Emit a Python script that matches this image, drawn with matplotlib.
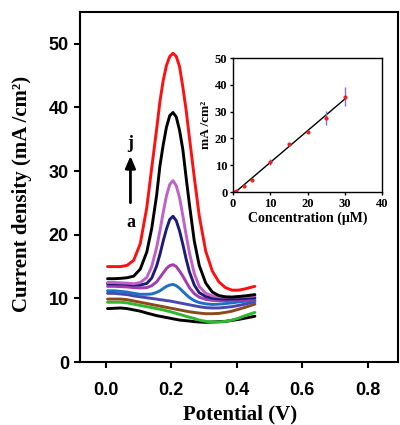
import matplotlib
matplotlib.use("Agg")
import matplotlib.pyplot as plt
import numpy as np

# potential (V) where the curves were read
potential = [0.005, 0.025, 0.045, 0.065, 0.085, 0.105, 0.125, 0.14, 0.155, 0.165,
             0.175, 0.185, 0.195, 0.205, 0.215, 0.225, 0.235, 0.245, 0.255, 0.27,
             0.285, 0.305, 0.325, 0.345, 0.365, 0.385, 0.405, 0.425, 0.455]

curve_a = [8.4, 8.45, 8.5, 8.4, 8.2, 8.0, 7.7, 7.5, 7.3, 7.2, 7.1, 7.0, 6.9, 6.8,
           6.7, 6.6, 6.55, 6.5, 6.45, 6.35, 6.3, 6.25, 6.3, 6.35, 6.4, 6.55, 6.7, 6.9, 7.2]
curve_b = [9.4, 9.4, 9.4, 9.3, 9.1, 8.9, 8.7, 8.55, 8.4, 8.3, 8.2, 8.05, 7.95, 7.8,
           7.65, 7.5, 7.35, 7.2, 7.05, 6.85, 6.6, 6.4, 6.3, 6.3, 6.4, 6.6, 6.9, 7.3, 7.8]
curve_c = [9.9, 9.9, 9.9, 9.8, 9.6, 9.4, 9.2, 9.05, 8.9, 8.8, 8.7, 8.6, 8.5, 8.4,
           8.3, 8.2, 8.1, 8.0, 7.9, 7.8, 7.7, 7.6, 7.6, 7.65, 7.8, 8.0, 8.3, 8.6, 9.1]
curve_d = [10.8, 10.8, 10.7, 10.6, 10.4, 10.25, 10.1, 10.0, 9.9, 9.8, 9.75, 9.65, 9.6, 9.5,
           9.4, 9.3, 9.2, 9.1, 9.0, 8.85, 8.7, 8.55, 8.5, 8.5, 8.6, 8.7, 8.9, 9.1, 9.5]
curve_e = [11.2, 11.2, 11.1, 11.0, 10.8, 10.65, 10.65, 10.7, 10.95, 11.2, 11.55, 11.9, 12.1, 12.2,
           12.0, 11.6, 11.1, 10.6, 10.15, 9.65, 9.35, 9.15, 9.05, 9.1, 9.2, 9.3, 9.45, 9.55, 9.7]
curve_f = [11.9, 11.9, 11.85, 11.8, 11.7, 11.65, 11.7, 12.0, 12.6, 13.3, 14.0, 14.7, 15.15, 15.3,
           15.0, 14.3, 13.5, 12.6, 11.7, 10.75, 10.2, 9.85, 9.7, 9.65, 9.65, 9.7, 9.75, 9.8, 9.9]
curve_g = [12.3, 12.3, 12.25, 12.2, 12.1, 12.1, 12.35, 13.2, 15.1, 16.9, 19.0, 20.9, 22.4, 22.9,
           22.2, 20.6, 18.5, 16.2, 14.2, 12.1, 10.9, 10.3, 10.05, 9.95, 9.9, 9.9, 9.95, 10.0, 10.1]
curve_h = [12.5, 12.5, 12.45, 12.4, 12.3, 12.5, 13.3, 15.0, 18.0, 20.6, 23.5, 26.1, 27.9, 28.5,
           27.7, 25.8, 23.0, 20.0, 17.2, 13.9, 11.9, 10.8, 10.4, 10.25, 10.2, 10.2, 10.25, 10.3, 10.4]
curve_i = [13.1, 13.1, 13.15, 13.25, 13.5, 14.6, 17.3, 21.0, 26.2, 30.8, 34.1, 36.9, 38.7, 39.2,
           38.5, 36.4, 33.4, 29.0, 24.8, 19.0, 15.2, 12.4, 11.0, 10.45, 10.25, 10.2, 10.3, 10.4, 10.6]
curve_j = [15.0, 15.0, 15.0, 15.2, 16.0, 18.6, 24.3, 30.5, 36.6, 40.9, 44.2, 46.6, 48.0, 48.5,
           48.0, 46.4, 43.2, 39.6, 35.3, 29.0, 23.0, 17.4, 14.3, 12.6, 11.7, 11.3, 11.3, 11.5, 11.9]

curves = [curve_a, curve_b, curve_c, curve_d, curve_e, curve_f, curve_g, curve_h, curve_i, curve_j]
colors = ['#000000', '#2db82d', '#8b4a1c', '#4848b0', '#1f6fc4',
          '#a23cb0', '#1c1c78', '#c060c8', '#000000', '#ff1010']

# inset calibration
conc = [0.3, 0.8, 3, 5, 10, 15, 20, 25, 30]
resp = [0.1, 0.4, 2.4, 4.5, 11.2, 17.8, 22.4, 27.7, 35.6]
resp_err = [0.2, 0.2, 0.3, 0.3, 1.25, 0.5, 0.3, 2.6, 3.5]

serif = ['Liberation Serif', 'DejaVu Serif']
sans = ['Liberation Sans', 'DejaVu Sans']

fig = plt.figure(figsize=(4, 4.25), dpi=100)
ax = fig.add_axes([0.2, 0.148, 0.795, 0.824])

for ys, c in zip(curves, colors):
    ax.plot(potential, ys, color=c, lw=2.1, solid_capstyle='round', solid_joinstyle='round')

ax.set_xlim(-0.079, 0.892)
ax.set_ylim(0, 55)
ax.set_xticks([0.0, 0.2, 0.4, 0.6, 0.8])
ax.set_xticklabels(['0.0', '0.2', '0.4', '0.6', '0.8'])
ax.set_yticks([0, 10, 20, 30, 40, 50])
for s in ax.spines.values():
    s.set_linewidth(1.5)
ax.tick_params(direction='out', length=4, width=1.5, top=False, right=False)
ax.tick_params(axis='x', pad=10)
ax.tick_params(axis='y', pad=4)
for lab in ax.get_xticklabels() + ax.get_yticklabels():
    lab.set_family(sans)
    lab.set_fontweight('bold')
    lab.set_fontsize(13)

ax.set_xlabel('Potential (V)', family=serif, fontweight='bold', fontsize=15)
ax.xaxis.set_label_coords(0.503, -0.12)
ax.set_ylabel('Current density (mA /cm\u00b2)', family=serif, fontweight='bold', fontsize=15)
ax.yaxis.set_label_coords(-0.152, 0.48)

ax.annotate('', xy=(0.075, 32.8), xytext=(0.075, 24.6),
            arrowprops=dict(arrowstyle='-|>,head_width=0.3,head_length=0.7', color='black', lw=2))
ax.text(0.075, 34.3, 'j', family=serif, fontweight='bold', fontsize=13, ha='center', va='center')
ax.text(0.075, 22.0, 'a', family=serif, fontweight='bold', fontsize=13, ha='center', va='center')

# inset
ins = fig.add_axes([0.5825, 0.548, 0.3725, 0.3153])
fit = np.polyfit(conc, resp, 1)
fx = np.array([0, 30])
ins.plot(fx, np.polyval(fit, fx), color='black', lw=1.0)
ins.errorbar(conc, resp, yerr=resp_err, fmt='o', ms=2.0, color='#ee2020',
             ecolor='#8a6ad8', elinewidth=1.0, capsize=0)
ins.set_xlim(0, 40)
ins.set_ylim(0, 50)
ins.set_xticks([0, 10, 20, 30, 40])
ins.set_yticks([0, 10, 20, 30, 40, 50])
for s in ins.spines.values():
    s.set_linewidth(1.0)
ins.tick_params(direction='out', length=2, width=1, pad=2)
for lab in ins.get_xticklabels() + ins.get_yticklabels():
    lab.set_family(serif)
    lab.set_fontweight('bold')
    lab.set_fontsize(9)
ins.set_xlabel('Concentration (\u03bcM)', family=serif, fontweight='bold', fontsize=10, labelpad=1)
ins.set_ylabel('mA /cm\u00b2', family=serif, fontweight='bold', fontsize=9.5, labelpad=2)

fig.savefig('out.png', dpi=100)
